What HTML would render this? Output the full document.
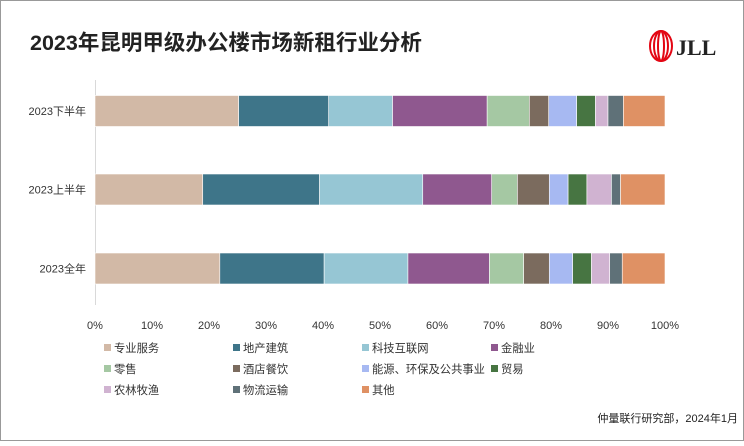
<!DOCTYPE html>
<html><head><meta charset="utf-8"><style>
body{margin:0;background:#fff;}
svg text{font-family:"Liberation Sans","Noto Sans CJK SC",sans-serif;}
</style></head><body>
<svg id="c" width="744" height="441" xmlns="http://www.w3.org/2000/svg">
<rect x="0.5" y="0.5" width="743" height="440" fill="#fff" stroke="#999"/>
<text x="30" y="50" font-size="21.5" font-weight="bold" fill="#222">2023年昆明甲级办公楼市场新租行业分析</text>
<g>
<ellipse cx="661" cy="46" rx="11" ry="15" fill="none" stroke="#e30613" stroke-width="2"/>
<ellipse cx="661" cy="46" rx="7" ry="15" fill="none" stroke="#e30613" stroke-width="2"/>
<ellipse cx="661" cy="46" rx="3" ry="15" fill="none" stroke="#e30613" stroke-width="2"/>
<text x="676" y="55" font-size="22" font-weight="bold" fill="#222" font-family="Liberation Serif" style="font-family:'Liberation Serif',serif">JLL</text>
</g>
<line x1="95.5" y1="80" x2="95.5" y2="305" stroke="#d9d9d9"/>
<g id="bars"></g><g id="ticks"></g><g id="legend"></g>
<text x="738" y="422" font-size="11" fill="#222" text-anchor="end">仲量联行研究部，2024年1月</text>
</svg>
<script>
const categories=["2023下半年","2023上半年","2023全年"];
const seriesNames=["专业服务","地产建筑","科技互联网","金融业","零售","酒店餐饮","能源、环保及公共事业","贸易","农林牧渔","物流运输","其他"];
const s0=[25.2,18.9,21.9];
const s1=[15.8,20.5,18.3];
const s2=[11.2,18.1,14.7];
const s3=[16.6,12.1,14.3];
const s4=[7.4,4.5,6.0];
const s5=[3.4,5.6,4.5];
const s6=[4.9,3.3,4.1];
const s7=[3.3,3.3,3.3];
const s8=[2.2,4.3,3.2];
const s9=[2.7,1.6,2.2];
const s10=[7.3,7.8,7.5];
const tickLabels=["0%","10%","20%","30%","40%","50%","60%","70%","80%","90%","100%"];
const series=[s0,s1,s2,s3,s4,s5,s6,s7,s8,s9,s10];
const colors=["#d2b9a6","#3e7589","#96c6d4","#8f588f","#a5c8a3","#7b6b5e","#a7b9f2","#477542","#d0b3d1","#5f7178","#df9164"];
const NS="http://www.w3.org/2000/svg";
const x=v=>95+v*5.7;
const yc=[111,189.5,268.5];
function mk(t,a,p){const e=document.createElementNS(NS,t);for(const k in a)e.setAttribute(k,a[k]);p.appendChild(e);return e;}
const bars=document.getElementById('bars');
categories.forEach((c,i)=>{
 let acc=0;
 series.forEach((s,j)=>{
  const r=mk('rect',{x:x(acc),y:yc[i]-15.5,width:s[i]*5.7,height:31,fill:colors[j],stroke:'#fff','stroke-width':0.6},bars);
  
  
  acc+=s[i];
 });
 const t=mk('text',{x:86,y:yc[i]+4,'font-size':11,'text-anchor':'end',fill:'#333'},bars);
 t.textContent=c;
 
 
});
const ticks=document.getElementById('ticks');
tickLabels.forEach((l,i)=>{
 const t=mk('text',{x:x(i*10),y:329,'font-size':11,'text-anchor':'middle',fill:'#333'},ticks);
 t.textContent=l;
 
 
});
const lg=document.getElementById('legend');
const cols=[104,233,362,491];
seriesNames.forEach((n,i)=>{
 const cx=cols[i%4],cy=348+Math.floor(i/4)*21;
 const g=mk('g',{},lg);
 
 
 mk('rect',{x:cx,y:cy-4,width:7,height:7,fill:colors[i]},g);
 const t=mk('text',{x:cx+10,y:cy+4,'font-size':11.3,fill:'#333'},g);
 t.textContent=n;
});
</script>
</body></html>
